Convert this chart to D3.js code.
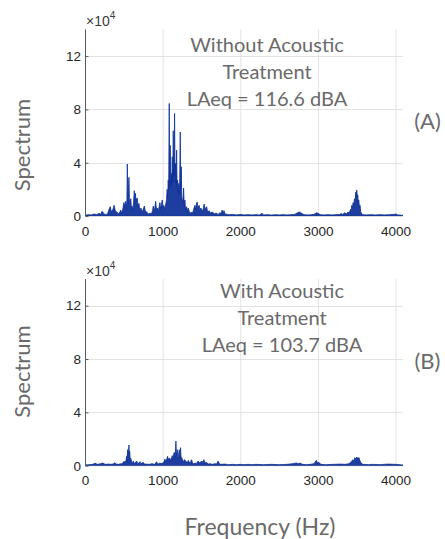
<!DOCTYPE html>
<html>
<head>
<meta charset="utf-8">
<script src="https://cdn.jsdelivr.net/npm/d3@7"></script>
<style>
  body { margin: 0; background: #fff; }
</style>
</head>
<body>
<div id="chart"></div>
<script>
// spectrum values, [frequency in Hz, amplitude in x10^4]
var specWithout = [
  [0,0.05],[40,0.1],[80,0.08],[120,0.15],[150,0.1],[180,0.2],[200,0.12],[220,0.35],[240,0.2],[260,0.1],
  [290,0.15],[310,0.5],[325,0.7],[340,0.3],[360,0.5],[375,0.8],[390,0.4],[410,0.3],[430,0.15],[450,0.3],
  [460,0.45],[475,0.2],[490,0.6],[500,1.0],[510,0.7],[520,1.1],[530,0.6],[540,1.2],[545,3.9],[552,1.5],
  [560,2.0],[566,2.9],[572,1.2],[580,0.9],[590,1.3],[598,0.5],[605,0.75],[615,0.4],[625,1.0],[635,1.9],
  [642,1.2],[650,1.7],[658,1.0],[665,1.3],[673,1.35],[682,0.7],[695,0.95],[705,0.4],[720,0.6],[735,0.3],
  [750,0.5],[765,0.75],[775,0.4],[795,0.3],[815,0.15],[835,0.2],[855,0.15],[870,0.4],[880,0.75],[890,0.4],
  [900,0.6],[910,1.1],[920,0.5],[935,0.6],[945,0.3],[955,0.7],[965,1.0],[975,0.5],[985,0.9],[995,1.2],
  [1005,0.6],[1015,0.8],[1030,0.5],[1040,0.9],[1050,1.2],[1058,2.0],[1065,1.4],[1072,2.7],[1078,2.0],[1085,8.45],
  [1090,2.5],[1098,5.3],[1104,2.2],[1111,3.2],[1117,2.4],[1124,4.45],[1130,2.6],[1137,6.4],[1142,3.0],[1148,4.0],
  [1154,7.7],[1160,3.0],[1167,3.95],[1173,2.5],[1180,4.95],[1186,2.2],[1193,2.7],[1200,1.8],[1210,2.45],[1218,1.6],
  [1227,6.3],[1233,2.0],[1240,3.7],[1246,1.5],[1252,1.2],[1260,1.0],[1270,2.1],[1278,0.8],[1287,1.2],[1295,0.5],
  [1309,0.7],[1318,0.35],[1330,0.6],[1345,0.3],[1360,0.2],[1373,0.3],[1385,0.2],[1400,0.5],[1416,0.8],[1425,0.5],
  [1435,0.9],[1445,1.05],[1455,0.6],[1471,0.8],[1480,0.4],[1490,0.6],[1502,0.5],[1515,0.35],[1525,0.6],[1535,0.9],
  [1545,0.4],[1555,0.6],[1566,0.7],[1580,0.3],[1600,0.4],[1615,0.2],[1630,0.3],[1643,0.3],[1660,0.15],[1680,0.2],
  [1695,0.2],[1715,0.12],[1737,0.25],[1750,0.15],[1767,0.45],[1780,0.2],[1790,0.4],[1805,0.15],[1830,0.12],[1860,0.1],
  [1900,0.12],[1950,0.08],[2000,0.12],[2050,0.08],[2100,0.1],[2150,0.08],[2200,0.1],[2250,0.08],[2280,0.2],[2300,0.08],
  [2350,0.1],[2400,0.07],[2450,0.1],[2500,0.08],[2550,0.1],[2600,0.08],[2650,0.1],[2700,0.12],[2740,0.25],[2760,0.3],
  [2790,0.2],[2820,0.1],[2870,0.08],[2920,0.1],[2960,0.15],[2980,0.25],[3000,0.2],[3030,0.1],[3080,0.08],[3130,0.1],
  [3180,0.08],[3230,0.1],[3280,0.12],[3300,0.18],[3320,0.12],[3346,0.25],[3365,0.15],[3389,0.3],[3405,0.2],[3419,0.5],
  [3428,0.3],[3436,0.8],[3445,0.6],[3453,1.0],[3462,0.8],[3471,1.3],[3480,1.0],[3488,1.8],[3494,1.3],[3500,1.95],
  [3507,1.4],[3513,1.6],[3520,1.0],[3526,1.2],[3535,0.7],[3543,0.8],[3552,0.3],[3561,0.2],[3580,0.1],[3620,0.08],
  [3680,0.1],[3740,0.08],[3800,0.1],[3860,0.08],[3920,0.1],[3980,0.12],[4000,0.15],[4030,0.08],[4096,0.05]
];

var specWith = [
  [0,0.05],[50,0.08],[100,0.1],[130,0.18],[160,0.1],[200,0.15],[230,0.2],[260,0.1],[300,0.12],[340,0.1],
  [370,0.15],[386,0.22],[400,0.12],[430,0.1],[460,0.15],[480,0.12],[495,0.3],[505,0.2],[515,0.35],[525,0.25],
  [536,0.7],[542,0.4],[549,1.2],[556,0.6],[560,0.9],[566,1.55],[570,0.8],[575,1.1],[582,0.5],[592,0.55],
  [600,0.25],[610,0.2],[622,0.35],[635,0.15],[650,0.25],[665,0.35],[680,0.15],[695,0.2],[708,0.3],[720,0.15],
  [735,0.2],[750,0.25],[765,0.12],[795,0.12],[830,0.1],[860,0.15],[900,0.1],[922,0.3],[935,0.12],[950,0.15],
  [965,0.2],[980,0.15],[1000,0.2],[1015,0.25],[1030,0.5],[1040,0.3],[1050,0.45],[1064,0.7],[1072,0.4],[1080,0.55],
  [1094,0.55],[1105,0.35],[1115,0.6],[1124,0.75],[1132,0.5],[1140,0.8],[1150,1.0],[1158,0.6],[1165,1.0],[1171,1.85],
  [1177,0.8],[1182,0.9],[1188,1.2],[1195,0.6],[1203,0.7],[1214,1.2],[1220,0.6],[1226,0.8],[1231,1.35],[1238,0.5],
  [1245,0.6],[1253,0.5],[1265,0.3],[1275,0.4],[1287,0.45],[1298,0.25],[1310,0.3],[1320,0.25],[1330,0.4],[1345,0.2],
  [1360,0.3],[1373,0.45],[1385,0.2],[1400,0.15],[1416,0.2],[1430,0.15],[1445,0.25],[1459,0.35],[1470,0.2],[1485,0.25],
  [1502,0.35],[1515,0.25],[1532,0.45],[1545,0.2],[1566,0.25],[1585,0.12],[1610,0.15],[1640,0.1],[1670,0.15],[1695,0.12],
  [1716,0.35],[1728,0.15],[1750,0.1],[1800,0.12],[1850,0.08],[1900,0.1],[1950,0.08],[2000,0.1],[2050,0.08],[2100,0.1],
  [2150,0.08],[2200,0.1],[2300,0.08],[2400,0.1],[2500,0.08],[2600,0.1],[2680,0.15],[2720,0.2],[2750,0.15],[2770,0.2],
  [2800,0.1],[2850,0.08],[2900,0.1],[2950,0.15],[2980,0.4],[2995,0.2],[3010,0.25],[3040,0.1],[3100,0.08],[3200,0.1],
  [3300,0.12],[3350,0.1],[3400,0.15],[3430,0.3],[3450,0.45],[3465,0.35],[3475,0.6],[3490,0.5],[3500,0.65],[3515,0.55],
  [3530,0.6],[3540,0.4],[3555,0.2],[3580,0.1],[3650,0.08],[3700,0.1],[3800,0.08],[3900,0.12],[4000,0.1],[4096,0.05]
];

var xTicks = [0, 1000, 2000, 3000, 4000];
var yTicks = [0, 4, 8, 12];
var titleWithout = ["Without Acoustic", "Treatment", "LAeq = 116.6 dBA"];
var titleWith = ["With Acoustic", "Treatment", "LAeq = 103.7 dBA"];

var width = 445, height = 539;
var lineColor = "#0a2e96";
var tickFont = "Arial, 'Liberation Sans', sans-serif";
var noteFont = "Lato, sans-serif";
var noteColor = "#6a6a6a";

var svg = d3.select("#chart")
    .append("svg")
    .attr("width", width)
    .attr("height", height)
    .style("display", "block");

var x = d3.scaleLinear().domain([0, 4096]).range([85, 403]);

function panel(data, top, bottom, title, titleX, titleY, tag, tagY, labelY) {
    var y = d3.scaleLinear().domain([0, 14]).range([bottom, top]);
    var g = svg.append("g");

    // grid
    g.selectAll(".vgrid")
        .data(xTicks.slice(1))
        .enter().append("line")
        .attr("x1", d => x(d) + 0.5).attr("x2", d => x(d) + 0.5)
        .attr("y1", top).attr("y2", bottom)
        .attr("stroke", "#e3e3e3").attr("stroke-width", 1);
    g.selectAll(".hgrid")
        .data(yTicks.slice(1))
        .enter().append("line")
        .attr("x1", x(0)).attr("x2", x(4096))
        .attr("y1", d => Math.round(y(d)) + 0.5).attr("y2", d => Math.round(y(d)) + 0.5)
        .attr("stroke", "#e3e3e3").attr("stroke-width", 1);

    // bottom axis line (mostly hidden under the data)
    g.append("line")
        .attr("x1", x(0)).attr("x2", x(4096))
        .attr("y1", bottom).attr("y2", bottom)
        .attr("stroke", "#b0b0b0");

    // spectrum
    var area = d3.area().x(d => x(d[0])).y0(y(0)).y1(d => y(d[1]));
    var line = d3.line().x(d => x(d[0])).y(d => y(d[1]));
    g.append("path").datum(data)
        .attr("d", area)
        .attr("fill", lineColor).attr("fill-opacity", 0.92);
    g.append("path").datum(data)
        .attr("d", line)
        .attr("fill", "none")
        .attr("stroke", lineColor).attr("stroke-width", 0.8);

    // left axis
    var yAxis = d3.axisLeft(y).tickValues(yTicks).tickSize(-3).tickPadding(6);
    var ya = g.append("g")
        .attr("transform", "translate(" + x(0) + ",0)")
        .call(yAxis);
    ya.select(".domain").attr("stroke", "#5a5a5a").attr("d", "M0.5," + top + "V" + bottom);
    ya.selectAll(".tick line").attr("stroke", "#5a5a5a").attr("transform", "translate(0.5,0)");
    ya.selectAll(".tick text")
        .attr("x", -4)
        .style("font-family", tickFont).style("font-size", "13.5px").attr("fill", "#262626");

    // bottom tick labels
    var xAxis = d3.axisBottom(x).tickValues(xTicks).tickFormat(d3.format("d")).tickSize(0).tickPadding(10);
    var xa = g.append("g")
        .attr("transform", "translate(0," + bottom + ")")
        .call(xAxis);
    xa.select(".domain").remove();
    xa.selectAll(".tick text")
        .style("font-family", tickFont).style("font-size", "13.5px").attr("fill", "#262626");

    // exponent
    var ex = g.append("text")
        .attr("x", x(0) + 1)
        .attr("y", top - 3.5)
        .attr("fill", "#3a3a3a")
        .style("font-family", tickFont)
        .style("font-size", "14px");
    ex.append("tspan").text("\u00d710");
    ex.append("tspan").attr("dy", -7).style("font-size", "10px").text("4");

    // annotation
    g.selectAll(".title")
        .data(title)
        .enter().append("text")
        .attr("x", titleX)
        .attr("y", (d, i) => titleY + i * 27)
        .attr("text-anchor", "middle")
        .attr("fill", noteColor)
        .style("font-family", noteFont)
        .style("font-size", "20px")
        .text(d => d);

    g.append("text")
        .attr("x", 427.5)
        .attr("y", tagY)
        .attr("text-anchor", "middle")
        .attr("fill", noteColor)
        .style("font-family", noteFont)
        .style("font-size", "22px")
        .text(tag);

    g.append("text")
        .attr("transform", "translate(21," + labelY + ") rotate(-90)")
        .attr("text-anchor", "middle")
        .attr("dominant-baseline", "central")
        .attr("fill", noteColor)
        .style("font-family", noteFont)
        .style("font-size", "22px")
        .text("Spectrum");
}

panel(specWithout, 29.5, 216, titleWithout, 267, 51.5, "(A)", 129, 145);
panel(specWith, 279, 465.7, titleWith, 282, 297.5, "(B)", 369, 371.5);

svg.append("text")
    .attr("x", 260)
    .attr("y", 535)
    .attr("text-anchor", "middle")
    .attr("fill", noteColor)
    .style("font-family", noteFont)
    .style("font-size", "23px")
    .text("Frequency (Hz)");
</script>
</body>
</html>
